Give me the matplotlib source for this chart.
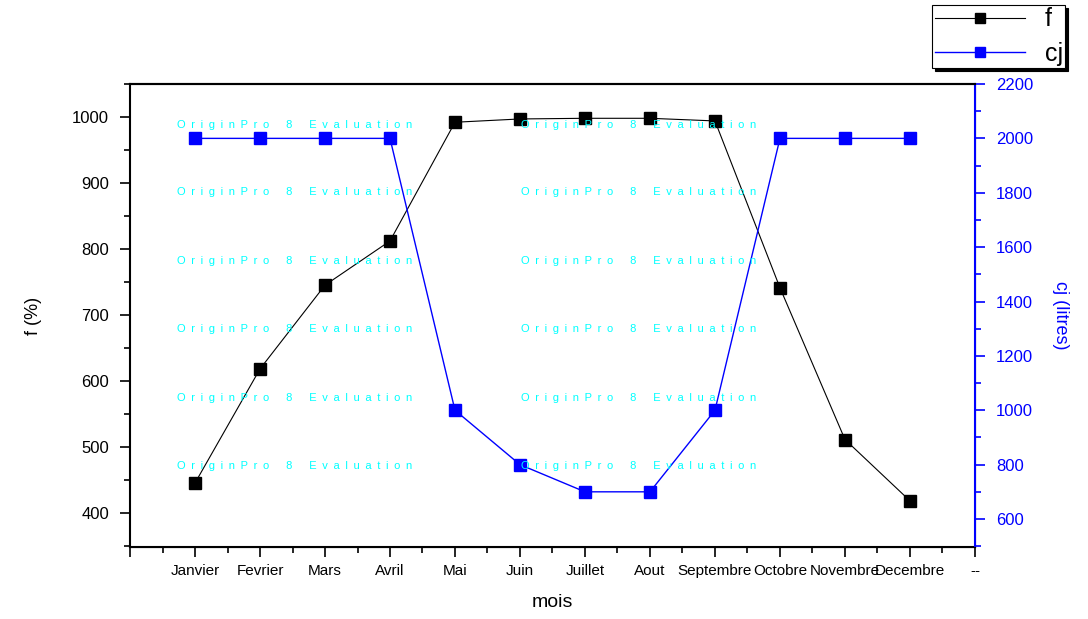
import matplotlib
matplotlib.use('Agg')
import matplotlib.pyplot as plt
from matplotlib.ticker import MultipleLocator

plt.rcParams['font.family'] = ['Liberation Sans', 'DejaVu Sans']

mois = ['Janvier', 'Fevrier', 'Mars', 'Avril', 'Mai', 'Juin', 'Juillet',
        'Aout', 'Septembre', 'Octobre', 'Novembre', 'Decembre']
f_vals = [445, 618, 745, 812, 992, 997, 998, 998, 994, 741, 511, 418]
cj_vals = [2000, 2000, 2000, 2000, 1000, 800, 700, 700, 1000, 2000, 2000, 2000]
x_labels = [''] + mois + ['--']

fig = plt.figure(figsize=(10.88, 6.19), dpi=100)
ax = fig.add_axes([0.1195, 0.1163, 0.7766, 0.748])
ax2 = ax.twinx()

x = range(1, len(mois) + 1)
l1, = ax.plot(x, f_vals, color='black', lw=0.8, marker='s', ms=8.5,
              label='f', zorder=3)
l2, = ax2.plot(x, cj_vals, color='blue', lw=1.0, marker='s', ms=8.5,
               label='cj', zorder=3)

ax.set_xlim(0, 13)
ax.set_ylim(348, 1050)
ax2.set_ylim(497, 2200)

ax.set_xticks(range(0, 14))
ax.set_xticklabels(x_labels, fontsize=11)
ax.xaxis.set_minor_locator(MultipleLocator(0.5))
ax.yaxis.set_major_locator(MultipleLocator(100))
ax.yaxis.set_minor_locator(MultipleLocator(50))
ax2.yaxis.set_major_locator(MultipleLocator(200))
ax2.yaxis.set_minor_locator(MultipleLocator(100))

ax.tick_params(axis='y', which='major', direction='out', length=7,
               width=1.2, labelsize=12, pad=8)
ax.tick_params(axis='both', which='minor', direction='out', length=4,
               width=1.2)
ax.tick_params(axis='x', which='major', direction='out', length=7,
               width=1.2, labelsize=11, pad=5)
ax2.tick_params(axis='y', which='major', direction='out', length=7,
                width=1.2, labelsize=12, colors='blue', pad=8)
ax2.tick_params(axis='y', which='minor', direction='out', length=4,
                width=1.2, colors='blue')

for s in ['left', 'bottom', 'top']:
	ax.spines[s].set_linewidth(1.5)
ax2.spines['right'].set_color('blue')
ax2.spines['right'].set_linewidth(1.5)
ax2.spines['left'].set_visible(False)
ax2.spines['top'].set_linewidth(1.5)

ax.set_xlabel('mois', fontsize=14, labelpad=12)
ax.set_ylabel('f (%)', fontsize=13, labelpad=22)
ax2.set_ylabel('cj (litres)', fontsize=13, color='blue', rotation=-90,
               labelpad=26)

# filigrane Origin
wm = '\u2002'.join('OriginPro') + '\u2002\u2002\u20028\u2002\u2002\u2002' + \
	'\u2002'.join('Evaluation')
for xf in [177, 521]:
	for yf in [125, 192, 261, 329, 398, 466]:
		fig.text(xf / 1088, 1 - yf / 619, wm, color='cyan', fontsize=8,
		         va='center', ha='left', zorder=1)

leg = fig.legend([l1, l2], ['f', 'cj'], loc='lower left',
                 bbox_to_anchor=(932 / 1088, 1 - 68 / 619), fontsize=18,
                 fancybox=False, shadow={'color': 'black', 'alpha': 1},
                 framealpha=1, edgecolor='black', borderpad=0.1,
                 borderaxespad=0, handlelength=3.6, handletextpad=0.8,
                 labelspacing=0.4, markerscale=0.9)
leg.get_frame().set_linewidth(0.8)

plt.savefig('out.png')
plt.close()
